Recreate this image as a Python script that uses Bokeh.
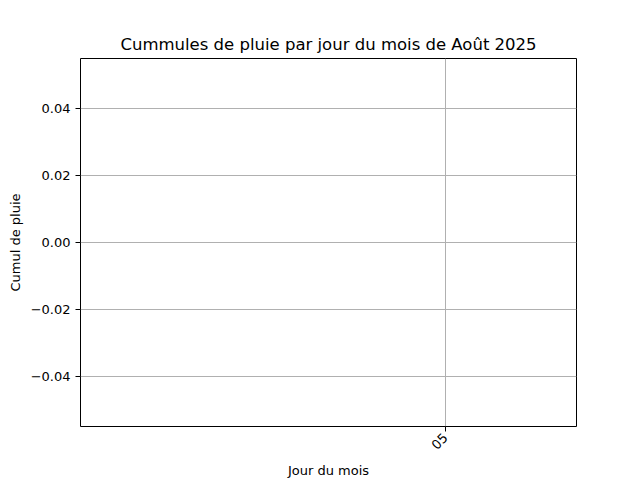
import math
from bokeh.plotting import figure
from bokeh.models import Range1d, FixedTicker, CustomJSTickFormatter, ColumnDataSource
from bokeh.embed import file_html
from bokeh.resources import INLINE

days = [5]
day_labels = ["05"]
rain = [0.0]
y_ticks = [-0.04, -0.02, 0.0, 0.02, 0.04]

src = ColumnDataSource(dict(day=days, rain=rain))

p = figure(width=640, height=480, output_backend="svg", toolbar_location=None,
           x_range=Range1d(1.6, 6.22), y_range=Range1d(-0.055, 0.055),
           min_border_left=80, min_border_right=64, min_border_top=58, min_border_bottom=54)

p.vbar(x="day", top="rain", width=0.8, source=src, fill_color="#1f77b4", line_color=None)

p.title.text = "Cummules de pluie par jour du mois de Août 2025"
p.title.align = "center"
p.title.text_font = "DejaVu Sans"
p.title.text_font_size = "16.5px"
p.title.text_font_style = "normal"
p.title.text_color = "black"

p.outline_line_color = "black"
p.outline_line_width = 1
p.background_fill_color = "white"
p.border_fill_color = "white"

for ax in (p.xaxis[0], p.yaxis[0]):
    ax.axis_line_color = None
    ax.major_tick_line_color = "black"
    ax.major_tick_out = 5
    ax.major_tick_in = 0
    ax.minor_tick_line_color = None
    ax.major_label_text_font = "DejaVu Sans"
    ax.major_label_text_font_size = "13px"
    ax.major_label_text_color = "black"
    ax.axis_label_text_font = "DejaVu Sans"
    ax.axis_label_text_font_size = "13px"
    ax.axis_label_text_font_style = "normal"
    ax.axis_label_text_color = "black"

p.xaxis.ticker = FixedTicker(ticks=days)
p.xaxis.major_label_overrides = {d: l for d, l in zip(days, day_labels)}
p.xaxis.major_label_orientation = math.pi / 4
p.xaxis.major_label_standoff = 4
p.xaxis.axis_label = "Jour du mois"
p.xaxis.axis_label_standoff = 6

p.yaxis.ticker = FixedTicker(ticks=y_ticks)
p.yaxis.formatter = CustomJSTickFormatter(code="""
    var s = Math.abs(tick).toFixed(2);
    return (tick < -1e-12 ? '\u2212' : '') + s;
""")
p.yaxis.axis_label = "Cumul de pluie"

p.grid.grid_line_color = "#b0b0b0"
p.grid.grid_line_width = 1
p.xgrid.ticker = FixedTicker(ticks=days)
p.ygrid.ticker = FixedTicker(ticks=y_ticks)

open("out.html", "w").write(file_html(p, INLINE))
